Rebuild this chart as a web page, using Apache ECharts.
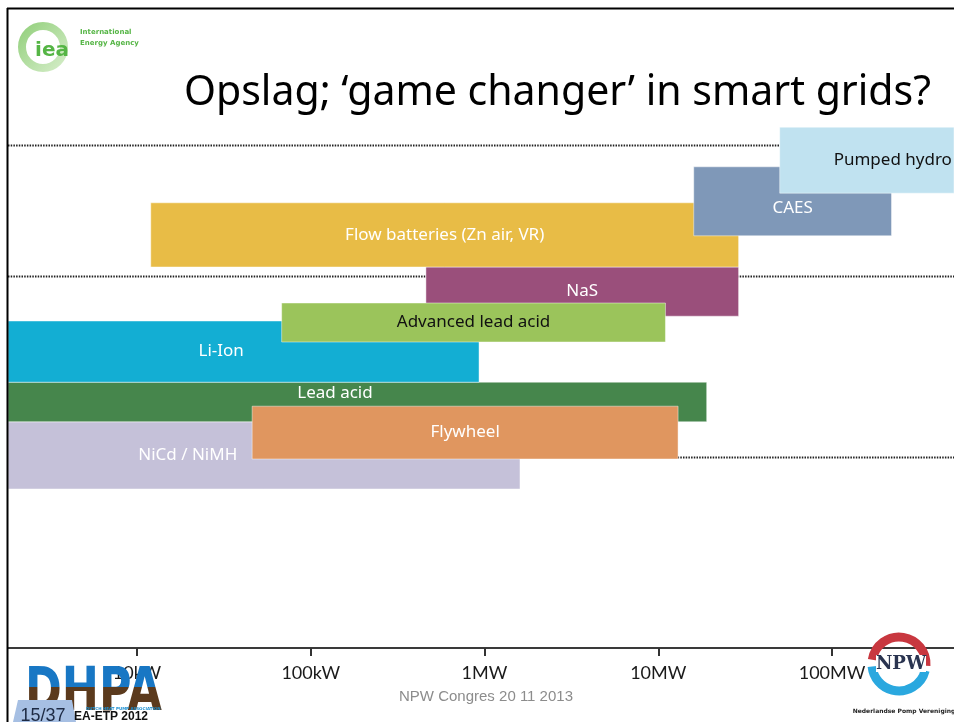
<!DOCTYPE html>
<html>
<head>
<meta charset="utf-8">
<script src="https://cdn.jsdelivr.net/npm/echarts@6/dist/echarts.min.js"></script>
<style>
html, body { margin: 0; padding: 0; background: #fff; }
#main { width: 954px; height: 722px; }
</style>
</head>
<body>
<div id="main"></div>
<script>
// storage technologies: power range (kW, log axis) and band on the (hidden) discharge scale
var techNames = ['NiCd / NiMH', 'Lead acid', 'Li-Ion', 'Flywheel', 'NaS', 'Advanced lead acid',
  'Flow batteries (Zn air, VR)', 'CAES', 'Pumped hydro'];
var powerFromKW = [0.24, 1, 1, 46, 460, 68, 12, 16000, 50000];
var powerToKW = [1600, 19000, 930, 13000, 29000, 11000, 29000, 220000, 1000000];
var timeFrom = [26.5, 37.7, 44.3, 31.5, 55.3, 51, 63.5, 68.7, 75.8];
var timeTo = [37.7, 44.3, 54.5, 40.3, 63.5, 57.5, 74.2, 80.2, 86.8];
var bandLines = [83.8, 62, 31.8];
var tickKW = [10, 100, 1000, 10000, 100000];
var tickLabels = ['10kW', '100kW', '1MW', '10MW', '100MW'];

var barColors = ['#C5C1D9', '#46864C', '#13AED3', '#E0965F', '#9A4F7B', '#9BC45B', '#E8BC46', '#7F98B8', '#C0E2F0'];
var darkText = { 'Pumped hydro': true, 'Advanced lead acid': true };
var labelShiftY = { 'CAES': 7, 'Lead acid': -9 };

var barData = techNames.map(function (n, i) {
  return [Math.log10(powerFromKW[i]), Math.log10(powerToKW[i]), timeFrom[i], timeTo[i]];
});
var tickVals = tickKW.map(function (v) { return Math.log10(v); });

var chart = echarts.init(document.getElementById('main'));

function renderBar(params, api) {
  var i = params.dataIndex;
  var p0 = api.coord([api.value(0), api.value(2)]);
  var p1 = api.coord([api.value(1), api.value(3)]);
  var rect = { x: p0[0], y: p1[1], width: p1[0] - p0[0], height: p0[1] - p1[1] };
  var cs = params.coordSys;
  var shown = echarts.graphic.clipRectByRect(rect, { x: cs.x, y: cs.y, width: cs.width, height: cs.height });
  if (!shown) return;
  var name = techNames[i];
  return {
    type: 'group',
    children: [{
      type: 'rect',
      shape: shown,
      style: { fill: barColors[i], stroke: 'rgba(255,255,255,0.45)', lineWidth: 1 }
    }, {
      type: 'text',
      x: rect.x + rect.width / 2,
      y: rect.y + rect.height / 2 + (labelShiftY[name] || 0),
      style: {
        text: name,
        fill: darkText[name] ? '#111' : '#fff',
        font: '17px "Noto Sans"',
        align: 'center',
        verticalAlign: 'middle'
      }
    }]
  };
}

function renderBand(params, api) {
  var cs = params.coordSys;
  var y = Math.round(api.coord([0, api.value(0)])[1]) + 0.5;
  return {
    type: 'line',
    shape: { x1: cs.x, y1: y, x2: cs.x + cs.width, y2: y },
    style: { stroke: '#222', lineWidth: 2, lineDash: [1.5, 1.2] }
  };
}

// DHPA footer logo: blue upper half, brown lower half (two clipped copies of the text)
function renderLogo(params, api) {
  function half(fill, y0, h) {
    return {
      type: 'text', x: 0, y: 0,
      style: { text: 'DHPA', font: 'bold 60px "DejaVu Sans"', verticalAlign: 'top', fill: fill },
      clipPath: { type: 'rect', shape: { x: -20, y: y0, width: 300, height: h } }
    };
  }
  return {
    type: 'group',
    x: 25, y: 664, scaleX: 0.74,
    children: [half('#1877c4', 0, 23), half('#5b3a1d', 23, 60)]
  };
}

var option = {
  animation: false,
  backgroundColor: '#fff',
  title: {
    text: 'Opslag; \u2018game changer\u2019 in smart grids?',
    left: 184,
    top: 73,
    padding: 0,
    textStyle: { fontFamily: 'Noto Sans', fontSize: 41, fontWeight: 'normal', color: '#000' }
  },
  grid: { left: 8, right: 0, top: 48, bottom: 74, outerBoundsMode: 'none' },
  xAxis: {
    type: 'value',
    min: 0.2576,
    max: 5.702,
    splitLine: { show: false },
    axisLine: { lineStyle: { color: '#3a3a3a', width: 2 } },
    axisTick: { customValues: tickVals, length: 8, lineStyle: { color: '#333', width: 2 } },
    axisLabel: {
      customValues: tickVals,
      margin: 16,
      fontFamily: 'Lato',
      fontSize: 18,
      color: '#1a1a1a',
      formatter: function (v) {
        var k = tickVals.findIndex(function (t) { return Math.abs(t - v) < 1e-6; });
        return k >= 0 ? tickLabels[k] : '';
      }
    }
  },
  yAxis: { type: 'value', min: 0, max: 100, show: false },
  series: [{
    type: 'custom',
    z: 1,
    silent: true,
    renderItem: renderBand,
    data: bandLines.map(function (v) { return [v]; })
  }, {
    type: 'custom',
    z: 2,
    silent: true,
    renderItem: renderBar,
    encode: { x: [0, 1], y: [2, 3] },
    data: barData
  }, {
    type: 'custom',
    z: 20,
    silent: true,
    renderItem: renderLogo,
    data: [[1, 50]]
  }],
  graphic: [
    // slide frame
    { type: 'line', z: 50, shape: { x1: 7.5, y1: 8, x2: 7.5, y2: 722 }, style: { stroke: '#000', lineWidth: 2 } },
    { type: 'line', z: 50, shape: { x1: 7, y1: 8.5, x2: 954, y2: 8.5 }, style: { stroke: '#000', lineWidth: 2 } },
    // IEA logo
    { type: 'arc', z: 50, shape: { cx: 43, cy: 47, r: 21, startAngle: 0, endAngle: Math.PI * 2 },
      style: { stroke: new echarts.graphic.LinearGradient(0, 0, 1, 1, [{ offset: 0, color: '#8fce78' }, { offset: 1, color: '#d9efcd' }]), lineWidth: 8, fill: null } },
    { type: 'text', z: 51, x: 52, y: 51, style: { text: 'iea', font: 'bold 20px "DejaVu Sans"', fill: '#55b545', align: 'center', verticalAlign: 'middle' } },
    { type: 'text', z: 51, x: 80, y: 27, style: { text: 'International\nEnergy Agency', font: 'bold 7px "DejaVu Sans"', lineHeight: 11, fill: '#55b545' } },
    // footer
    { type: 'text', z: 50, x: 486, y: 697, style: { text: 'NPW Congres 20 11 2013', font: '15px "Liberation Sans"', fill: '#8c8c8c', align: 'center', verticalAlign: 'middle' } },
    { type: 'text', z: 61, x: 86, y: 709, style: { text: 'DUTCH HEAT PUMP ASSOCIATION', font: 'bold 4px "DejaVu Sans"', fill: '#1a8ed0', verticalAlign: 'middle' } },
    { type: 'polygon', z: 62, shape: { points: [[18, 700], [72, 700], [76, 722], [13, 722]] }, style: { fill: '#A6BFE3' } },
    { type: 'text', z: 63, x: 43, y: 716, style: { text: '15/37', font: '18px "Liberation Sans"', fill: '#1d2a44', align: 'center', verticalAlign: 'middle' } },
    { type: 'text', z: 63, x: 74, y: 717, style: { text: 'EA-ETP 2012', font: 'bold 12px "Liberation Sans"', fill: '#111', verticalAlign: 'middle' } },
    // NPW logo
    { type: 'arc', z: 50, shape: { cx: 899, cy: 664, r: 27, startAngle: Math.PI * 1.05, endAngle: Math.PI * 2.02, clockwise: true },
      style: { stroke: '#C8373F', lineWidth: 9, fill: null } },
    { type: 'arc', z: 50, shape: { cx: 899, cy: 664, r: 27, startAngle: Math.PI * 0.08, endAngle: Math.PI * 0.97, clockwise: true },
      style: { stroke: '#2AA8DF', lineWidth: 9, fill: null } },
    { type: 'rect', z: 51, shape: { x: 876, y: 655, width: 50, height: 17 }, style: { fill: '#fff' } },
    { type: 'text', z: 52, x: 901, y: 664, style: { text: 'NPW', font: 'bold 18px "DejaVu Serif"', fill: '#2a3450', align: 'center', verticalAlign: 'middle' } },
    { type: 'text', z: 52, x: 904, y: 711, style: { text: 'Nederlandse Pomp Vereniging', font: 'bold 6px "DejaVu Sans"', fill: '#222', align: 'center', verticalAlign: 'middle' } }
  ]
};

chart.setOption(option);
</script>
</body>
</html>
